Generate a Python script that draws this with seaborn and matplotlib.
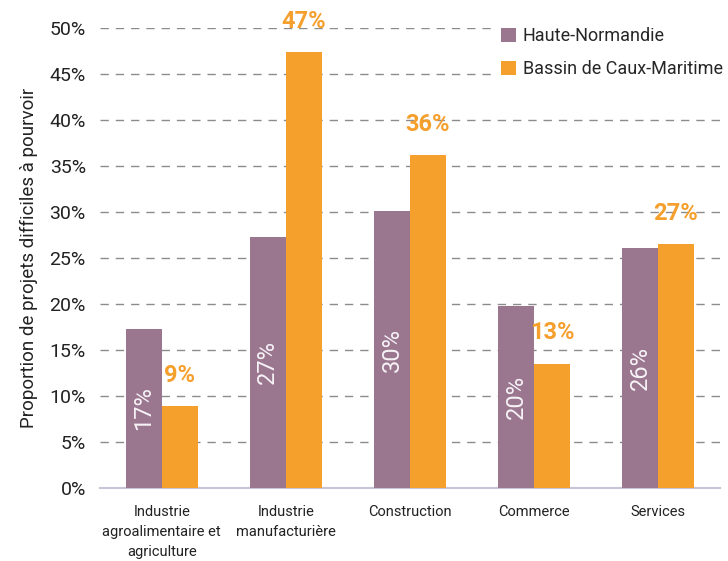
import numpy as np
import pandas as pd
import seaborn as sns
import matplotlib.pyplot as plt
from matplotlib.ticker import FixedLocator, PercentFormatter

# données
secteurs = ['Industrie\nagroalimentaire et\nagriculture', 'Industrie\nmanufacturière',
            'Construction', 'Commerce', 'Services']
haute_normandie = [17.3, 27.3, 30.1, 19.8, 26.1]
bassin_caux = [8.9, 47.4, 36.2, 13.5, 26.5]
labels_hn = ['17%', '27%', '30%', '20%', '26%']
labels_bc = ['9%', '47%', '36%', '13%', '27%']
series = ['Haute-Normandie', 'Bassin de Caux-Maritime']

df = pd.DataFrame({
    'secteur': secteurs * 2,
    'zone': [series[0]] * 5 + [series[1]] * 5,
    'valeur': haute_normandie + bassin_caux,
})

violet = '#9a768f'
orange = '#f59f2d'

sns.set_theme(style='white')
plt.rcParams['font.family'] = ['Roboto', 'DejaVu Sans']

fig = plt.figure(figsize=(7.28, 5.61), dpi=100)
ax = fig.add_axes([0.137, 0.130, 0.852, 0.820])

sns.barplot(data=df, x='secteur', y='valeur', hue='zone', palette=[violet, orange],
            width=0.58, saturation=1, linewidth=0, ax=ax, zorder=3)

# étiquettes
for bars, labs, serie in zip(ax.containers, [labels_hn, labels_bc], series):
    if serie == series[0]:
        txts = ax.bar_label(bars, labels=labs, label_type='center', rotation=90,
                            color='#f6f2f6', fontsize=17)
    else:
        txts = ax.bar_label(bars, labels=labs, padding=14, color=orange,
                            fontsize=17, fontweight='bold')
    for t in txts:
        t.set_zorder(5)

ax.set_ylim(0, 50)
ax.set_xlim(-0.5, 4.5)
ax.yaxis.set_major_locator(FixedLocator(np.arange(0, 51, 5)))
ax.yaxis.set_major_formatter(PercentFormatter(decimals=0))
ax.tick_params(axis='y', length=0, labelsize=14, labelcolor='#222222', pad=10)
ax.tick_params(axis='x', which='major', length=0, labelsize=10.5, labelcolor='#222222', pad=12)
for lab in ax.get_xticklabels():
    lab.set_linespacing(1.55)
ax.set_xticks(np.arange(-0.5, 5, 1), minor=True)
ax.tick_params(axis='x', which='minor', length=6, color='#c8c4d8', width=1)

ax.grid(axis='y', linestyle=(0, (6, 5)), color='#8c8c8c', linewidth=1, zorder=0)
ax.grid(axis='x', visible=False)
for s in ['top', 'right', 'left']:
    ax.spines[s].set_visible(False)
ax.spines['bottom'].set_color('#c8c4d8')
ax.spines['bottom'].set_linewidth(1.5)

ax.set_xlabel('')
ax.set_ylabel('Proportion de projets difficiles à pourvoir', fontsize=13.5, color='#222222',
              labelpad=8)

# légende sur fond blanc (masque les pointillés)
leg = ax.legend(loc='upper right', bbox_to_anchor=(1.025, 1.03), frameon=True, fontsize=13,
                handlelength=0.8, handleheight=0.8, handletextpad=0.4, labelspacing=0.85,
                borderaxespad=0.3, facecolor='white', edgecolor='none', framealpha=1,
                fancybox=False)

fig.savefig('out.png', dpi=100)
